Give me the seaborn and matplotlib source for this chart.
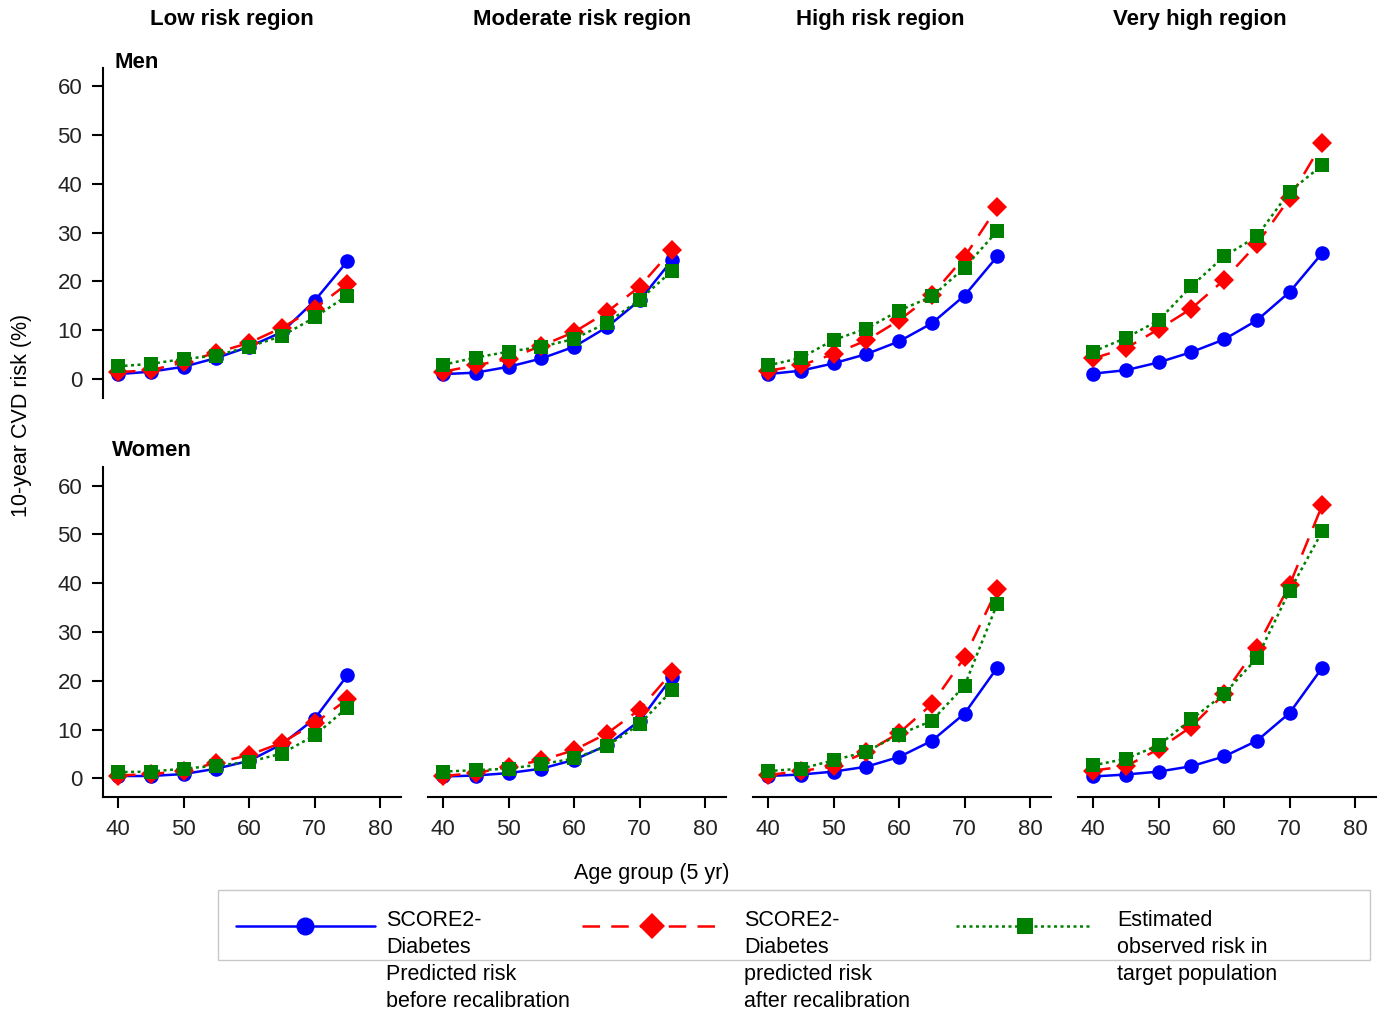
import numpy as np
import pandas as pd
import matplotlib
matplotlib.use("Agg")
import matplotlib.pyplot as plt
from matplotlib.lines import Line2D
from matplotlib.patches import Rectangle
import seaborn as sns

# ---------------------------------------------------------------
# Data (10-year CVD risk, %)
ages = [40, 45, 50, 55, 60, 65, 70, 75]
regions = ["Low risk region", "Moderate risk region", "High risk region", "Very high region"]
series = ["before", "after", "observed"]

men_before = [
    [1.0, 1.5, 2.5, 4.3, 6.6, 9.6, 16.0, 24.1],
    [1.0, 1.3, 2.5, 4.2, 6.6, 10.6, 16.1, 24.4],
    [1.0, 1.7, 3.2, 5.1, 7.7, 11.4, 17.1, 25.1],
    [1.1, 1.8, 3.4, 5.5, 8.1, 12.0, 17.8, 25.8],
]
men_after = [
    [1.4, 1.8, 3.4, 5.4, 7.4, 10.5, 14.4, 19.5],
    [1.5, 2.8, 4.1, 6.8, 9.6, 13.7, 18.9, 26.5],
    [1.7, 2.8, 5.1, 7.9, 12.0, 17.2, 25.0, 35.2],
    [4.2, 6.3, 10.2, 14.4, 20.3, 27.6, 37.0, 48.3],
]
men_observed = [
    [2.6, 3.1, 4.1, 4.8, 6.6, 8.8, 12.6, 17.1],
    [2.9, 4.4, 5.6, 6.6, 8.2, 11.5, 16.2, 22.2],
    [2.8, 4.3, 8.0, 10.3, 14.0, 16.9, 22.8, 30.3],
    [5.6, 8.4, 12.0, 19.0, 25.1, 29.2, 38.4, 43.8],
]
women_before = [
    [0.5, 0.5, 0.9, 2.0, 3.6, 7.0, 12.2, 21.1],
    [0.4, 0.6, 1.1, 2.0, 3.8, 6.8, 11.8, 20.8],
    [0.5, 0.8, 1.4, 2.4, 4.4, 7.7, 13.3, 22.7],
    [0.4, 0.8, 1.4, 2.5, 4.5, 7.7, 13.4, 22.7],
]
women_after = [
    [0.6, 0.9, 1.5, 3.2, 4.8, 7.3, 11.3, 16.2],
    [0.5, 1.1, 2.4, 3.7, 5.8, 9.2, 14.1, 21.8],
    [0.7, 1.5, 2.5, 5.4, 9.3, 15.2, 24.8, 38.8],
    [1.6, 2.5, 6.0, 10.6, 17.3, 26.8, 39.6, 56.0],
]
women_observed = [
    [1.3, 1.4, 2.0, 2.6, 3.4, 5.1, 8.8, 14.5],
    [1.4, 1.7, 2.0, 2.9, 4.1, 6.6, 11.1, 18.1],
    [1.5, 2.0, 3.7, 5.5, 9.0, 11.8, 19.0, 35.8],
    [2.7, 4.0, 6.8, 12.1, 17.3, 24.6, 38.4, 50.6],
]

legend_labels = [
    "SCORE2-\nDiabetes\nPredicted risk\nbefore recalibration",
    "SCORE2-\nDiabetes\npredicted risk\nafter recalibration",
    "Estimated\nobserved risk in\ntarget population",
]

# ---------------------------------------------------------------
# Long table
rows = []
for sex, tables in [("Men", [men_before, men_after, men_observed]),
                    ("Women", [women_before, women_after, women_observed])]:
    for s, tab in zip(series, tables):
        for r, vals in zip(regions, tab):
            for a, v in zip(ages, vals):
                rows.append((sex, r, s, a, v))
df = pd.DataFrame(rows, columns=["sex", "region", "series", "age", "risk"])

colors = {"before": "#0000FF", "after": "#FF0000", "observed": "#008000"}
markers = {"before": "o", "after": "D", "observed": "s"}
dashes = {"before": "", "after": (7, 4.5), "observed": (1.2, 1.4)}

sns.set_theme(style="white")
plt.rcParams["font.family"] = ["Liberation Sans", "DejaVu Sans"]
plt.rcParams["text.color"] = "black"
plt.rcParams["axes.labelcolor"] = "black"

W, H = 1392, 1015
fig, axes = plt.subplots(2, 4, figsize=(W / 100, H / 100), dpi=100,
                         gridspec_kw=dict(left=103 / W, right=1376 / W,
                                          top=1 - 68 / H, bottom=1 - 797 / H,
                                          wspace=27 / 298, hspace=70 / 330))

for i, sex in enumerate(["Men", "Women"]):
    for j, reg in enumerate(regions):
        ax = axes[i, j]
        sub = df[(df.sex == sex) & (df.region == reg)]
        sns.lineplot(data=sub, x="age", y="risk", hue="series", style="series",
                     hue_order=series, style_order=series, palette=colors,
                     markers=markers, dashes=dashes, markersize=10.5,
                     markeredgewidth=0, linewidth=1.8, legend=False, ax=ax)
        ax.set_xlim(37.7, 83.2)
        ax.set_ylim(-3.8, 63.7)
        ax.set_xlabel("")
        ax.set_ylabel("")
        ax.set_yticks(range(0, 61, 10))
        ax.set_xticks(range(40, 81, 10))
        for sp in ["top", "right"]:
            ax.spines[sp].set_visible(False)
        ax.spines["left"].set_visible(j == 0)
        ax.spines["bottom"].set_visible(i == 1)
        for sp in ["left", "bottom"]:
            ax.spines[sp].set_linewidth(1.5)
            ax.spines[sp].set_color("black")
        ax.tick_params(axis="y", left=(j == 0), labelleft=(j == 0), length=8,
                       width=1.5, pad=7, labelsize=16, direction="out",
                       colors="black", labelcolor="#222222")
        ax.tick_params(axis="x", bottom=(i == 1), labelbottom=(i == 1), length=8,
                       width=1.5, pad=8, labelsize=16, direction="out",
                       colors="black", labelcolor="#222222")


def fx(px):
    return px / W


def fy(py):
    return 1 - py / H


# column titles and row labels
for x, t in zip([232, 582, 880, 1200], regions):
    fig.text(fx(x), fy(19), t, ha="center", va="center", fontsize=16, fontweight="bold")
fig.text(fx(114), fy(62), "Men", ha="left", va="center", fontsize=16, fontweight="bold")
fig.text(fx(112), fy(451), "Women", ha="left", va="center", fontsize=16, fontweight="bold")
fig.text(fx(22), fy(415), "10-year CVD risk (%)", rotation=90, ha="center", va="center", fontsize=15.5)
fig.text(fx(652), fy(873), "Age group (5 yr)", ha="center", va="center", fontsize=15.5)

# legend (box is shorter than the wrapped labels, as in the original)
fig.add_artist(Rectangle((fx(218), fy(960)), fx(1370) - fx(218), fy(890) - fy(960),
                         transform=fig.transFigure, fill=False, edgecolor="#c8c8c8", lw=1))
leg_pos = [(236, 375, 305, 386), (582, 722, 652, 744), (956, 1092, 1025, 1117)]
for s, (x0, x1, xm, xt), lab in zip(series, leg_pos, legend_labels):
    ls = "-" if dashes[s] == "" else (0, dashes[s])
    fig.add_artist(Line2D([fx(x0), fx(x1)], [fy(926), fy(926)], transform=fig.transFigure,
                          color=colors[s], lw=1.8, linestyle=ls))
    fig.add_artist(Line2D([fx(xm)], [fy(926)], transform=fig.transFigure, color=colors[s],
                          marker=markers[s], markersize=13 if s != "observed" else 12,
                          markeredgewidth=0, linestyle="none"))
    fig.text(fx(xt), fy(910), lab, ha="left", va="top", fontsize=15.5, linespacing=1.38)

fig.savefig("out.png", dpi=100)
